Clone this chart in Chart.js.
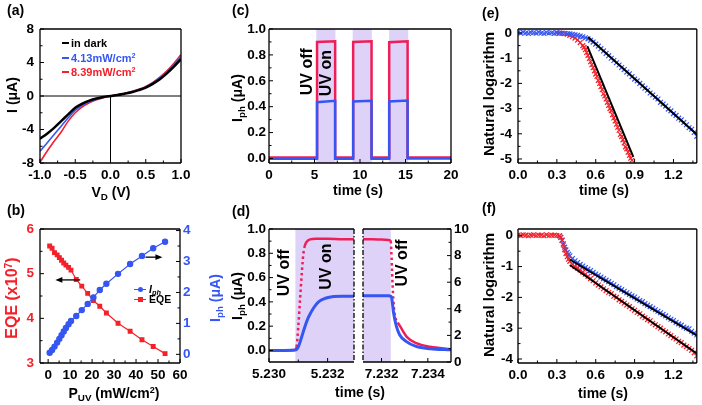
<!DOCTYPE html>
<html>
<head>
<meta charset="utf-8">
<script src="https://cdn.jsdelivr.net/npm/chart.js@4/dist/chart.umd.min.js"></script>
<style>
body{margin:0;background:#fff;width:702px;height:405px;overflow:hidden;position:relative;font-family:"Liberation Sans",Arial,sans-serif;font-weight:bold;color:#000}
canvas{position:absolute}
.t{position:absolute;white-space:nowrap;line-height:1;font-size:14px;transform:translate(-50%,-50%)}
.r{transform:translate(-50%,-50%) rotate(-90deg)}
.p{position:absolute;font-size:14px;line-height:1}
.lg{position:absolute;white-space:nowrap;font-size:11px;line-height:12px}
.dash{display:inline-block;width:7px;height:2px;vertical-align:middle;margin-right:2px;position:relative;top:-1px}
.mk{display:inline-block;width:12px;height:1.3px;vertical-align:middle;margin-right:3px;position:relative;top:-1px}
.mk b{position:absolute;left:3.5px;top:-2px;width:5px;height:5px}
sub{font-size:0.7em;vertical-align:-0.3em;line-height:0}
sup{font-size:0.65em;vertical-align:0.5em;line-height:0}
</style>
</head>
<body>
<canvas id="ca" width="200" height="200" style="left:0;top:0"></canvas>
<canvas id="cb" width="230" height="205" style="left:0;top:200px"></canvas>
<canvas id="cc" width="235" height="200" style="left:230px;top:0"></canvas>
<canvas id="cd1" width="128" height="205" style="left:230px;top:200px"></canvas>
<canvas id="cd2" width="114" height="205" style="left:358px;top:200px"></canvas>
<canvas id="ce" width="237" height="200" style="left:465px;top:0"></canvas>
<canvas id="cf" width="237" height="205" style="left:465px;top:200px"></canvas>

<div class="p" style="left:7px;top:3px">(a)</div>
<div class="p" style="left:7px;top:203px">(b)</div>
<div class="p" style="left:232px;top:3px">(c)</div>
<div class="p" style="left:232px;top:204px">(d)</div>
<div class="p" style="left:482px;top:6px">(e)</div>
<div class="p" style="left:482px;top:201px">(f)</div>

<div class="t r" style="left:12px;top:95px">I (μA)</div>
<div class="t" style="left:111px;top:192px">V<sub>D</sub> (V)</div>
<div class="t r" style="left:12px;top:298px;color:#f4202a;font-size:16px">EQE (x10<sup>7</sup>)</div>
<div class="t r" style="left:215px;top:298px;color:#3556f2">I<sub>ph</sub> (μA)</div>
<div class="t" style="left:114px;top:393px">P<sub>UV</sub> (mW/cm<sup>2</sup>)</div>
<div class="t r" style="left:237px;top:98px">I<sub>ph</sub> (μA)</div>
<div class="t" style="left:358px;top:190px">time (s)</div>
<div class="t r" style="left:237px;top:296px">I<sub>ph</sub> (μA)</div>
<div class="t" style="left:360px;top:392px">time (s)</div>
<div class="t r" style="left:488px;top:94px;font-size:15px">Natural logarithm</div>
<div class="t" style="left:604px;top:190px">time (s)</div>
<div class="t r" style="left:488px;top:295px;font-size:15px">Natural logarithm</div>
<div class="t" style="left:603px;top:393px">time (s)</div>

<div class="lg" style="left:62px;top:37px"><span class="dash" style="background:#000"></span>in dark</div>
<div class="lg" style="left:62px;top:52px;color:#3556f2"><span class="dash" style="background:#3556f2"></span>4.13mW/cm<sup>2</sup></div>
<div class="lg" style="left:62px;top:66px;color:#f4202a"><span class="dash" style="background:#f4202a"></span>8.39mW/cm<sup>2</sup></div>

<div class="lg" style="left:134px;top:283px;font-size:10.5px"><span class="mk" style="background:#3556f2"><b style="background:#3556f2;border-radius:50%"></b></span><i>I<sub>ph</sub></i></div>
<div class="lg" style="left:134px;top:293px;font-size:10.5px"><span class="mk" style="background:#f4202a"><b style="background:#f4202a"></b></span>EQE</div>

<script>
// (a) I-V curves
var aV = [-1.0, -0.9, -0.8, -0.7, -0.6, -0.5, -0.4, -0.3, -0.2, -0.1, 0, 0.1, 0.2, 0.3, 0.4, 0.5, 0.6, 0.7, 0.8, 0.9, 1.0];
var aDark = [-5.1, -4.5, -3.8, -3.0, -2.2, -1.4, -0.9, -0.55, -0.3, -0.12, 0, 0.12, 0.28, 0.45, 0.7, 1.0, 1.45, 2.0, 2.7, 3.5, 4.4];
var aLow = [-6.6, -5.6, -4.6, -3.6, -2.6, -1.7, -1.1, -0.7, -0.38, -0.16, 0, 0.13, 0.3, 0.5, 0.75, 1.08, 1.55, 2.15, 2.9, 3.75, 4.7];
var aHigh = [-7.9, -6.6, -5.4, -4.3, -3.0, -2.0, -1.3, -0.8, -0.45, -0.2, 0, 0.14, 0.32, 0.53, 0.8, 1.15, 1.62, 2.25, 3.0, 3.9, 4.95];
var aXTicks = [-1, -0.5, 0, 0.5, 1];
var aYTicks = [-8, -4, 0, 4, 8];

// (b) EQE and Iph vs power
var bP = [0.7, 1.8, 2.9, 4.1, 5.1, 6.1, 7.1, 8.1, 9.3, 10.4, 12.8, 15.3, 18.0, 20.6, 23.5, 26.5, 31.8, 37.3, 42.7, 47.8, 53.2];
var bEQE = [5.62, 5.57, 5.47, 5.42, 5.36, 5.30, 5.24, 5.19, 5.14, 5.08, 4.87, 4.72, 4.56, 4.40, 4.27, 4.12, 3.89, 3.71, 3.52, 3.37, 3.21];
var bIph = [0.05, 0.14, 0.25, 0.38, 0.5, 0.62, 0.74, 0.85, 0.97, 1.08, 1.24, 1.43, 1.63, 1.84, 2.08, 2.28, 2.6, 2.92, 3.18, 3.43, 3.64];
var bXTicks = [0, 10, 20, 30, 40, 50, 60];
var bYTicks = [3, 4, 5, 6];
var bY2Ticks = [0, 1, 2, 3, 4];

// (c) on/off cycles
var cT = [0, 5.28, 5.28, 7.27, 7.27, 9.25, 9.25, 11.27, 11.27, 13.21, 13.21, 15.23, 15.23, 20];
var cRed = [0.008, 0.008, 0.9, 0.905, 0.008, 0.008, 0.9, 0.905, 0.008, 0.008, 0.898, 0.905, 0.008, 0.008];
var cBlue = [-0.003, -0.003, 0.435, 0.445, -0.003, -0.003, 0.44, 0.445, -0.002, -0.002, 0.44, 0.447, 0, 0];
var cShade = [[5.2, 7.3], [9.2, 11.3], [13.2, 15.3]];
var cXTicks = [0, 5, 10, 15, 20];
var cYTicks = [0, 0.2, 0.4, 0.6, 0.8, 1.0];

// (d) rise and decay, zoomed
var dRedT1 = [5.2300, 5.2305, 5.2309, 5.23094, 5.2310, 5.23106, 5.23112, 5.23117, 5.23122, 5.23127, 5.2314, 5.2316, 5.2320, 5.2325, 5.2329];
var dRed1 = [0, 0, 0.005, 0.03, 0.20, 0.42, 0.64, 0.79, 0.86, 0.89, 0.915, 0.92, 0.92, 0.915, 0.915];
var dBlueT1 = [5.2300, 5.2305, 5.2309, 5.2310, 5.23112, 5.23123, 5.23134, 5.23152, 5.23169, 5.23192, 5.23221, 5.2325, 5.2329];
var dBlue1 = [0, 0, 0.003, 0.03, 0.115, 0.2, 0.27, 0.35, 0.40, 0.43, 0.445, 0.447, 0.447];
var dRedT2 = [7.2312, 7.2316, 7.2320, 7.2323, 7.2324, 7.23242, 7.23245, 7.23248, 7.23251, 7.23256, 7.2327, 7.2328, 7.2331, 7.2335, 7.2341, 7.2350];
var dRed2 = [0.915, 0.915, 0.913, 0.91, 0.90, 0.83, 0.69, 0.53, 0.42, 0.31, 0.23, 0.2, 0.11, 0.06, 0.03, 0.01];
var dBlueT2 = [7.2312, 7.2316, 7.2320, 7.2323, 7.23242, 7.23245, 7.23252, 7.23264, 7.23278, 7.23306, 7.23349, 7.2341, 7.2350];
var dBlue2 = [0.45, 0.45, 0.45, 0.45, 0.445, 0.42, 0.31, 0.20, 0.13, 0.075, 0.033, 0.014, 0.005];
var dXTicks1 = [5.230, 5.232];
var dXTicks2 = [7.232, 7.234];
var dYTicks = [0, 0.2, 0.4, 0.6, 0.8, 1.0];
var dY2Ticks = [0, 2, 4, 6, 8, 10];

// (e) decay logarithm
var eBlueX = [0, 0.02, 0.04, 0.06, 0.08, 0.1, 0.12, 0.14, 0.16, 0.18, 0.2, 0.22, 0.24, 0.26, 0.28, 0.3, 0.32, 0.34, 0.36, 0.38,
  0.4, 0.42, 0.44, 0.46, 0.48, 0.5, 0.52, 0.54, 0.56, 0.58, 0.6, 0.62, 0.64, 0.66, 0.68, 0.7, 0.72, 0.74, 0.76, 0.78,
  0.8, 0.82, 0.84, 0.86, 0.88, 0.9, 0.92, 0.94, 0.96, 0.98, 1.0, 1.02, 1.04, 1.06, 1.08, 1.1, 1.12, 1.14, 1.16, 1.18,
  1.2, 1.22, 1.24, 1.26, 1.28, 1.3, 1.32, 1.34, 1.36, 1.38];
var eBlueY = [0.02, -0.01, 0.03, 0, -0.02, 0.02, 0.01, -0.01, 0.03, 0, -0.02, 0.02, 0, 0.01, -0.02, 0.02, 0, -0.01, -0.02, -0.03,
  -0.03, -0.05, -0.07, -0.09, -0.12, -0.15, -0.19, -0.23, -0.29, -0.36, -0.44, -0.52, -0.62, -0.71, -0.81, -0.9, -1.0, -1.09, -1.18, -1.27,
  -1.37, -1.45, -1.55, -1.62, -1.73, -1.83, -1.9, -2.0, -2.1, -2.19, -2.27, -2.38, -2.46, -2.55, -2.62, -2.75, -2.82, -2.9, -3.02, -3.09,
  -3.2, -3.27, -3.38, -3.45, -3.55, -3.64, -3.76, -3.82, -3.95, -4.1];
var eRedX = [0.3, 0.32, 0.34, 0.36, 0.38, 0.4, 0.42, 0.44, 0.46, 0.48,
  0.5, 0.51, 0.52, 0.53, 0.54, 0.55, 0.56, 0.57, 0.58, 0.59, 0.6, 0.61, 0.62, 0.63, 0.64, 0.65, 0.66, 0.67, 0.68, 0.69,
  0.7, 0.71, 0.72, 0.73, 0.74, 0.75, 0.76, 0.77, 0.78, 0.79, 0.8, 0.81, 0.82, 0.83, 0.84, 0.85, 0.86, 0.87, 0.88];
var eRedY = [0, -0.01, -0.01, -0.02, -0.05, -0.09, -0.14, -0.2, -0.28, -0.38,
  -0.5, -0.57, -0.66, -0.77, -0.89, -1.01, -1.14, -1.26, -1.38, -1.5, -1.63, -1.72, -1.88, -2.0, -2.13, -2.25, -2.41, -2.5, -2.62, -2.75,
  -2.87, -3.0, -3.08, -3.24, -3.37, -3.49, -3.62, -3.74, -3.86, -4.03, -4.11, -4.24, -4.36, -4.52, -4.6, -4.73, -4.86, -4.97, -5.05];
var eFitBlueX = [0.54, 1.4], eFitBlueY = [-0.16, -4.12];
var eFitRedX = [0.535, 0.89], eFitRedY = [-0.52, -4.92];
var eXTicks = [0, 0.3, 0.6, 0.9, 1.2];
var eYTicks = [-5, -4, -3, -2, -1, 0];

// (f) rise logarithm
var fRedX = [0, 0.02, 0.04, 0.06, 0.08, 0.1, 0.12, 0.14, 0.16, 0.18, 0.2, 0.22, 0.24, 0.26, 0.28, 0.3, 0.32,
  0.33, 0.34, 0.35, 0.36, 0.37, 0.38, 0.39, 0.4, 0.42, 0.44,
  0.46, 0.48, 0.5, 0.52, 0.54, 0.56, 0.58, 0.6, 0.62, 0.64, 0.66, 0.68, 0.7, 0.72, 0.74, 0.76, 0.78, 0.8, 0.82, 0.84,
  0.86, 0.88, 0.9, 0.92, 0.94, 0.96, 0.98, 1.0, 1.02, 1.04, 1.06, 1.08, 1.1, 1.12, 1.14, 1.16, 1.18, 1.2, 1.22, 1.24,
  1.26, 1.28, 1.3, 1.32, 1.34, 1.36, 1.38];
var fRedY = [0.02, 0.01, 0.03, 0.02, 0, 0.02, 0.03, 0.01, 0.02, 0.02, 0, 0.03, 0.01, 0.02, 0.02, 0.01, 0,
  -0.05, -0.15, -0.3, -0.45, -0.58, -0.68, -0.76, -0.83, -0.93, -1.0,
  -1.05, -1.11, -1.18, -1.25, -1.32, -1.39, -1.46, -1.53, -1.6, -1.66, -1.72, -1.78, -1.84, -1.88, -1.96, -2.0, -2.08, -2.13, -2.19, -2.25,
  -2.3, -2.37, -2.42, -2.49, -2.53, -2.61, -2.66, -2.72, -2.76, -2.84, -2.89, -2.95, -3.0, -3.07, -3.12, -3.19, -3.24, -3.31, -3.35, -3.43,
  -3.47, -3.55, -3.6, -3.66, -3.72, -3.8, -3.9];
var fBlueX = [0.32, 0.33, 0.34, 0.35, 0.36, 0.37, 0.38, 0.39, 0.4, 0.42, 0.44, 0.46, 0.48, 0.5,
  0.52, 0.54, 0.56, 0.58, 0.6, 0.62, 0.64, 0.66, 0.68, 0.7, 0.72, 0.74, 0.76, 0.78, 0.8, 0.82, 0.84, 0.86, 0.88, 0.9,
  0.92, 0.94, 0.96, 0.98, 1.0, 1.02, 1.04, 1.06, 1.08, 1.1, 1.12, 1.14, 1.16, 1.18, 1.2, 1.22, 1.24, 1.26, 1.28, 1.3,
  1.32, 1.34, 1.36, 1.38];
var fBlueY = [0, -0.05, -0.14, -0.26, -0.37, -0.46, -0.54, -0.6, -0.65, -0.74, -0.81, -0.87, -0.93, -0.98,
  -1.03, -1.08, -1.13, -1.19, -1.24, -1.28, -1.34, -1.39, -1.44, -1.49, -1.54, -1.59, -1.65, -1.7, -1.75, -1.8, -1.85, -1.9, -1.95, -1.99,
  -2.05, -2.1, -2.14, -2.2, -2.25, -2.3, -2.35, -2.4, -2.45, -2.5, -2.55, -2.6, -2.66, -2.71, -2.75, -2.81, -2.86, -2.9, -2.96, -3.0,
  -3.02, -3.1, -3.16, -3.22];
var fFitBlueX = [0.4, 1.4], fFitBlueY = [-0.77, -3.29];
var fFitRedX = [0.4, 1.4], fFitRedY = [-0.95, -3.88];
var fYTicks = [-4, -3, -2, -1, 0];

var RED = '#f4202a', BLUE = '#3556f2', PINK = '#ee1f58', SHADE = 'rgb(222,210,248)';
var FONT = '"Liberation Sans", Arial, sans-serif';

Chart.defaults.font.family = FONT;
Chart.defaults.font.weight = 'bold';
Chart.defaults.font.size = 13.5;
Chart.defaults.color = '#000';

function pts(xs, ys) {
    return xs.map(function (x, i) { return { x: x, y: ys[i] }; });
}

// extra drawing per canvas: shading, rotated labels, arrows, dashed frame side
var extras = {
    cb: { arrows: [{ x1: 14.6, x2: 3.3, y: 4.86, axis: 'y' }, { x1: 44.3, x2: 52, y: 3.14, axis: 'y2' }] },
    cc: { shade: cShade, texts: [{ x: 4.19, y: 0.67, s: 'UV off' }, { x: 6.32, y: 0.66, s: 'UV on' }] },
    cd1: { shade: [[5.2309, 5.24]], dash: 'right', texts: [{ x: 5.23054, y: 0.64, s: 'UV off' }, { x: 5.23198, y: 0.69, s: 'UV on' }] },
    cd2: { shade: [[7.23, 7.2324]], dash: 'left', texts: [{ x: 7.2329, y: 0.72, s: 'UV off' }] }
};

var framePlugin = {
    id: 'frame',
    beforeDatasetsDraw: function (chart) {
        var e = extras[chart.canvas.id] || {};
        var ca = chart.chartArea, ctx = chart.ctx, xs = chart.scales.x;
        ctx.save();
        ctx.fillStyle = SHADE;
        (e.shade || []).forEach(function (r) {
            var a = Math.max(ca.left, xs.getPixelForValue(r[0]));
            var b = Math.min(ca.right, xs.getPixelForValue(r[1]));
            ctx.fillRect(a, ca.top, b - a, ca.bottom - ca.top);
        });
        ctx.restore();
    },
    afterDraw: function (chart) {
        var e = extras[chart.canvas.id] || {};
        var ca = chart.chartArea, ctx = chart.ctx;
        ctx.save();

        (e.texts || []).forEach(function (t) {
            var px = chart.scales.x.getPixelForValue(t.x), py = chart.scales.y.getPixelForValue(t.y);
            ctx.save();
            ctx.translate(px, py);
            ctx.rotate(-Math.PI / 2);
            ctx.font = 'bold 16px ' + FONT;
            ctx.fillStyle = '#000';
            ctx.textAlign = 'center';
            ctx.textBaseline = 'middle';
            ctx.fillText(t.s, 0, 0);
            ctx.restore();
        });

        (e.arrows || []).forEach(function (a) {
            var x1 = chart.scales.x.getPixelForValue(a.x1), x2 = chart.scales.x.getPixelForValue(a.x2);
            var y = chart.scales[a.axis].getPixelForValue(a.y);
            var d = x2 > x1 ? 1 : -1;
            ctx.strokeStyle = '#000';
            ctx.lineWidth = 1.3;
            ctx.beginPath(); ctx.moveTo(x1, y); ctx.lineTo(x2 - d * 5, y); ctx.stroke();
            ctx.fillStyle = '#000';
            ctx.beginPath(); ctx.moveTo(x2, y); ctx.lineTo(x2 - d * 7, y - 2.8); ctx.lineTo(x2 - d * 7, y + 2.8); ctx.closePath(); ctx.fill();
        });

        // box
        ctx.strokeStyle = '#000';
        ctx.lineWidth = 1.3;
        function side(x1, y1, x2, y2, dashed) {
            ctx.setLineDash(dashed ? [5, 2, 1.5, 2] : []);
            ctx.beginPath(); ctx.moveTo(x1, y1); ctx.lineTo(x2, y2); ctx.stroke();
        }
        side(ca.left, ca.top, ca.right, ca.top);
        side(ca.left, ca.bottom, ca.right, ca.bottom);
        side(ca.left, ca.top, ca.left, ca.bottom, e.dash === 'left');
        side(ca.right, ca.top, ca.right, ca.bottom, e.dash === 'right');
        ctx.setLineDash([]);

        // inward major + minor ticks
        ctx.lineWidth = 1;
        Object.keys(chart.scales).forEach(function (k) {
            var s = chart.scales[k];
            if (s.options.display === false || s.ticks.length < 2) return;
            var v = s.ticks.map(function (t) { return t.value; });
            var step = v[1] - v[0];
            var lo = Math.min(s.min, s.max), hi = Math.max(s.min, s.max);
            var marks = v.map(function (x) { return [x, 4]; });
            for (var i = -1; i < v.length; i++) {
                var m = v[0] + step * (i + 0.5);
                if (m > lo + 1e-9 && m < hi - 1e-9) marks.push([m, 2.5]);
            }
            marks.forEach(function (mk) {
                var p = s.getPixelForValue(mk[0]);
                ctx.beginPath();
                if (s.isHorizontal()) {
                    ctx.moveTo(p, ca.bottom); ctx.lineTo(p, ca.bottom - mk[1]);
                } else {
                    var right = s.position === 'right';
                    var x0 = right ? ca.right : ca.left;
                    ctx.moveTo(x0, p); ctx.lineTo(x0 + (right ? -mk[1] : mk[1]), p);
                }
                ctx.stroke();
            });
        });
        ctx.restore();
    }
};
Chart.register(framePlugin);

function axis(pos, min, max, ticks, size, dec, pad, color) {
    return {
        type: 'linear', position: pos, min: min, max: max,
        grid: { display: false, drawTicks: false }, border: { display: false },
        ticks: {
            padding: pad, color: color || '#000', maxRotation: 0, autoSkip: false,
            callback: function (v) { return Number(v).toFixed(dec); }
        },
        afterBuildTicks: function (s) { s.ticks = ticks.map(function (v) { return { value: v }; }); },
        afterFit: function (s) {
            if (pos === 'bottom') s.height = size; else s.width = size;
            s.paddingLeft = 0; s.paddingRight = 0; s.paddingTop = 0; s.paddingBottom = 0;
        }
    };
}

function curve(data, color, w, extra) {
    var d = { data: data, showLine: true, borderColor: color, backgroundColor: color, borderWidth: w, pointRadius: 0 };
    for (var k in extra) d[k] = extra[k];
    return d;
}

function marks(data, color, style, r) {
    return { data: data, showLine: false, pointStyle: style, pointRadius: r, borderColor: color, backgroundColor: color, pointBorderWidth: 1.2 };
}

function make(id, datasets, scales, padding) {
    return new Chart(document.getElementById(id), {
        type: 'scatter',
        data: { datasets: datasets },
        options: {
            responsive: false, animation: false, events: [],
            layout: { padding: padding },
            plugins: { legend: { display: false }, tooltip: { enabled: false } },
            scales: scales
        }
    });
}

var smooth = { cubicInterpolationMode: 'monotone' };
var steepDots = {
    cubicInterpolationMode: 'monotone',
    segment: {
        borderDash: function (c) {
            var dy = Math.abs(c.p1.y - c.p0.y), dx = Math.abs(c.p1.x - c.p0.x);
            return dy > 6 && dy > 2 * dx ? [2.5, 3] : undefined;
        }
    }
};

// (a)
make('ca', [
    curve(pts(aV, aDark), '#000', 2.5, smooth),
    curve(pts(aV, aLow), BLUE, 1.6, smooth),
    curve(pts(aV, aHigh), RED, 1.6, smooth),
    curve(pts([-1, 1], [0, 0]), '#000', 1),
    curve(pts([0, 0], [0, -8]), '#000', 1)
], {
    x: axis('bottom', -1, 1, aXTicks, 37, 1, 4),
    y: axis('left', -8, 8, aYTicks, 40, 0, 6)
}, { top: 29, right: 19 });

// (b)
make('cb', [
    Object.assign(curve(pts(bP, bIph), BLUE, 1.2), { yAxisID: 'y2', pointRadius: 2.6, pointStyle: 'circle' }),
    Object.assign(curve(pts(bP, bEQE), RED, 1.2), { yAxisID: 'y', pointRadius: 2.6, pointStyle: 'rect' })
], {
    x: axis('bottom', -3.7, 60, bXTicks, 42, 0, 4),
    y: axis('left', 3, 6, bYTicks, 40, 0, 6, RED),
    y2: axis('right', -0.28, 4.05, bY2Ticks, 50, 0, 3, BLUE)
}, { top: 29 });

// (c)
make('cc', [
    curve(pts(cT, cBlue), BLUE, 2.5),
    curve(pts(cT, cRed), PINK, 2.5)
], {
    x: axis('bottom', 0, 20, cXTicks, 37, 0, 4),
    y: axis('left', -0.035, 1.0, cYTicks, 39, 1, 3)
}, { top: 29, right: 14 });

// (d) left part
make('cd1', [
    curve(pts(dBlueT1, dBlue1), BLUE, 3, smooth),
    curve(pts(dRedT1, dRed1), PINK, 2.5, steepDots)
], {
    x: axis('bottom', 5.2300, 5.2329, dXTicks1, 43, 3, 4),
    y: axis('left', -0.095, 1.0, dYTicks, 39, 1, 3)
}, { top: 29, right: 4 });

// (d) right part
make('cd2', [
    curve(pts(dBlueT2, dBlue2), BLUE, 3, smooth),
    curve(pts(dRedT2, dRed2), PINK, 2.5, steepDots)
], {
    x: axis('bottom', 7.2312, 7.2350, dXTicks2, 43, 3, 4),
    y: { type: 'linear', display: false, min: -0.095, max: 1.0 },
    y2: axis('right', 0, 10, dY2Ticks, 21, 0, 3)
}, { top: 29, left: 5 });

// (e)
make('ce', [
    curve(pts(eFitBlueX, eFitBlueY), '#000', 2),
    curve(pts(eFitRedX, eFitRedY), '#000', 2),
    marks(pts(eBlueX, eBlueY), BLUE, 'crossRot', 3.4),
    marks(pts(eRedX, eRedY), RED, 'crossRot', 3.4)
], {
    x: axis('bottom', 0, 1.38, eXTicks, 37, 1, 4),
    y: axis('left', -5.16, 0.16, eYTicks, 53, 0, 6)
}, { top: 29, right: 4 });

// (f)
make('cf', [
    curve(pts(fFitBlueX, fFitBlueY), '#000', 2),
    curve(pts(fFitRedX, fFitRedY), '#000', 2),
    marks(pts(fRedX, fRedY), RED, 'crossRot', 3.4),
    marks(pts(fBlueX, fBlueY), BLUE, 'crossRot', 3.4)
], {
    x: axis('bottom', 0, 1.38, eXTicks, 42, 1, 4),
    y: axis('left', -4.13, 0.22, fYTicks, 53, 0, 5)
}, { top: 29, right: 4 });
</script>
</body>
</html>
